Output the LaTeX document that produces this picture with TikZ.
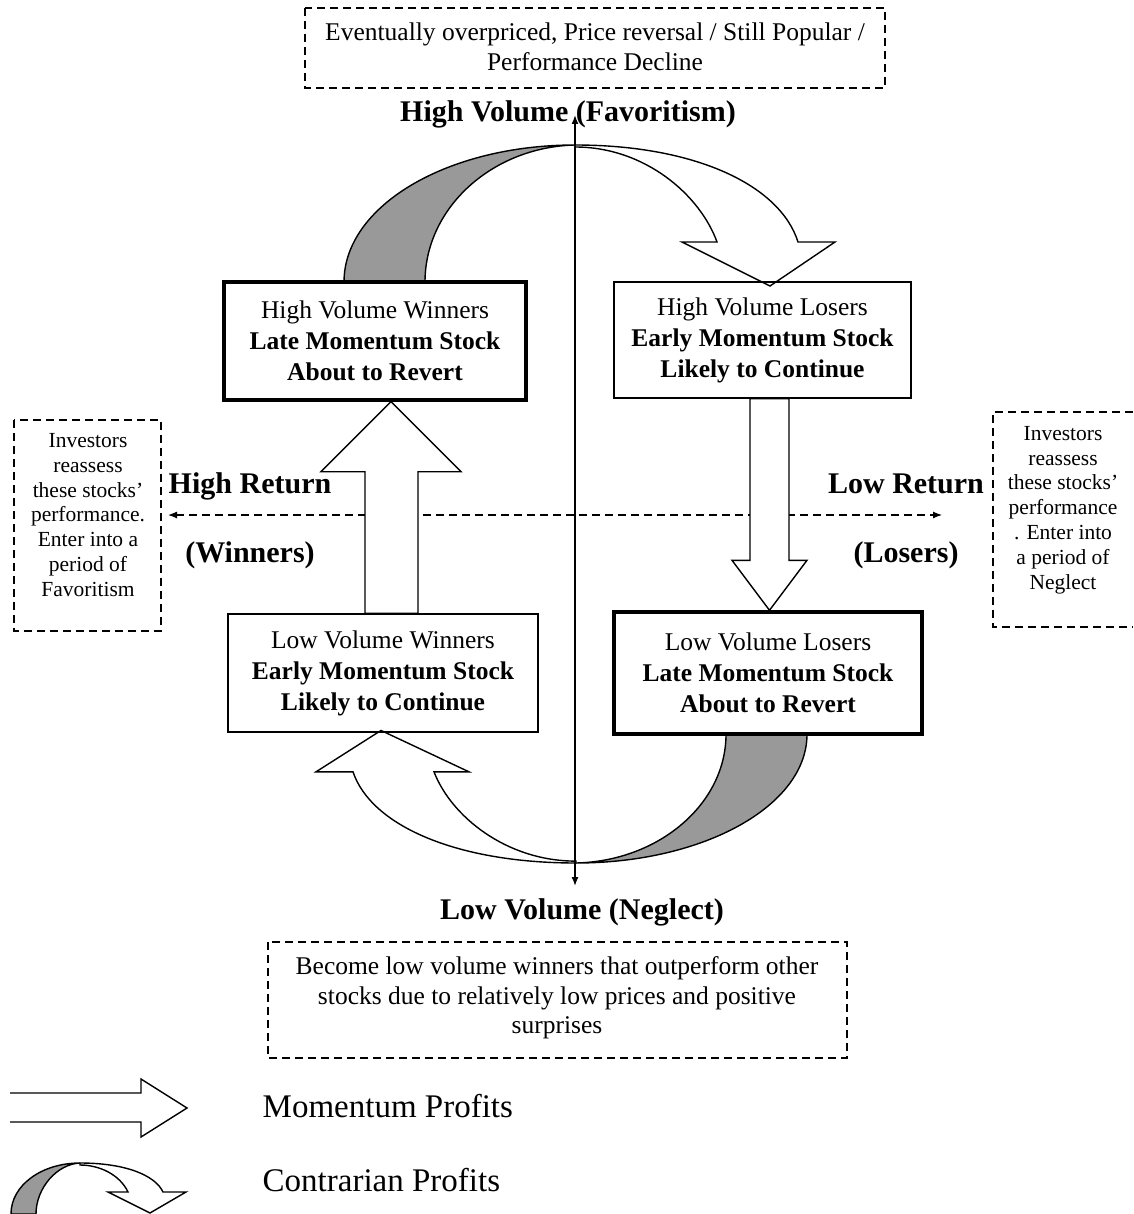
\documentclass[tikz,border=0pt]{standalone}
\usepackage{fontspec}
\setmainfont{Liberation Serif}
\usetikzlibrary{arrows.meta}

\tikzset{
  stockbox/.style={draw, line width=1.4pt, align=center, inner sep=0pt, font=\fontsize{25.5}{31}\selectfont},
  latebox/.style={stockbox, line width=3.4pt},
  notebox/.style={line width=1.3pt, dash pattern=on 8pt off 5pt},
  notetext/.style={align=center, inner sep=0pt, font=\fontsize{25.5}{29.5}\selectfont},
  sidetext/.style={align=center, inner sep=0pt, font=\fontsize{21.5}{24.8}\selectfont},
  axislabel/.style={anchor=base, inner sep=0pt, font=\fontsize{30}{36}\selectfont\bfseries},
  legendtext/.style={anchor=base west, inner sep=0pt, font=\fontsize{33}{40}\selectfont},
  momarrow/.style={draw, fill=white, line width=1.4pt},
  backband/.style={draw, fill=black!40, line width=1.4pt},
  volaxis/.style={line width=1.4pt, {Latex[length=9pt,width=7pt]}-{Latex[length=9pt,width=7pt]}},
  retaxis/.style={line width=1.2pt, dash pattern=on 8pt off 5pt, {Latex[length=9pt,width=7pt]}-{Latex[length=9pt,width=7pt]}},
  % shaded back band + white curved arrow, origin = point on the volume axis
  contra/.pic={
    \path[backband] (-231,137) .. controls (-231,61) and (-128,0) .. (0,0)
      .. controls (-83,2) and (-150,63) .. (-150,137) -- cycle;
    \path[momarrow] (0,0) .. controls (120,0) and (205,40) .. (223,97) -- (260,97)
      -- (195,141) -- (107,97) -- (142,97) .. controls (125,50) and (70,2) .. (0,2) -- cycle;
  }
}

\begin{document}
\begin{tikzpicture}[x=1pt, y=-1pt, line width=1.4pt]

  %% ════ dashed notes ════
  \draw[notebox] (305,8) rectangle (885,88);
  \draw[notebox] (268,942) rectangle (847,1058);
  \draw[notebox] (14,420) rectangle (161,631);
  \draw[notebox] (1133,412) -- (993,412) -- (993,627) -- (1133,627);   % right side runs off the page

  \node[notetext] (topnote) at (595,47) {Eventually overpriced, Price reversal / Still Popular /\\Performance Decline};
  \node[notetext] (botnote) at (557,998) {Become low volume winners that outperform other\\stocks due to relatively low prices and positive\\surprises};
  \node[sidetext] (leftnote) at (88,515) {Investors\\reassess\\these stocks’\\performance.\\Enter into a\\period of\\Favoritism};
  \node[sidetext] (rightnote) at (1063,510) {Investors\\reassess\\these stocks’\\performance\\. Enter into\\a period of\\Neglect};

  %% ════ return axis (under the arrows) ════
  \coordinate (retL) at (168,515);
  \coordinate (retR) at (942,515);
  \draw[retaxis] (retL) -- (retR);

  %% ════ contrarian arcs ════
  \pic (ctop) at (575,145) {contra};
  \pic (cbot) at (576,863) [xscale=-1, yscale=-0.94] {contra};

  %% ════ the four stocks ════
  \node[latebox, minimum width=302, minimum height=118] (hvw) at (375,341) {High Volume Winners\\\textbf{Late Momentum Stock}\\\textbf{About to Revert}};
  \node[stockbox, minimum width=297, minimum height=116] (hvl) at (762.5,340) {High Volume Losers\\\textbf{Early Momentum Stock}\\\textbf{Likely to Continue}};
  \node[stockbox, minimum width=310, minimum height=118] (lvw) at (383,673) {Low Volume Winners\\\textbf{Early Momentum Stock}\\\textbf{Likely to Continue}};
  \node[latebox, minimum width=308, minimum height=122] (lvl) at (768,673) {Low Volume Losers\\\textbf{Late Momentum Stock}\\\textbf{About to Revert}};

  %% ════ momentum arrows ════
  \coordinate (upTail) at ([xshift=8.5pt]lvw.north);
  \coordinate (upTip) at ([xshift=16pt]hvw.south);
  \draw[momarrow] ([xshift=-26.5pt]upTail) |- ([xshift=-70pt,yshift=-70pt]upTip) -- (upTip)
    -- ([xshift=70pt,yshift=-70pt]upTip) -| ([xshift=26.5pt]upTail) -- cycle;

  \coordinate (downTail) at ([xshift=7pt]hvl.south);
  \coordinate (downTip) at ([xshift=1.5pt]lvl.north);
  \draw[momarrow] ([xshift=-19.5pt]downTail) |- ([xshift=-37.5pt,yshift=50pt]downTip) -- (downTip)
    -- ([xshift=37.5pt,yshift=50pt]downTip) -| ([xshift=19.5pt]downTail) -- cycle;

  %% ════ volume axis ════
  \coordinate (volT) at (575,115);
  \coordinate (volB) at (575,886);
  \draw[volaxis] (volT) -- (volB);

  %% ════ axis labels ════
  \node[axislabel] (hivol) at (568,122) {High Volume (Favoritism)};
  \node[axislabel] (lovol) at (582,919) {Low Volume (Neglect)};
  \node[axislabel] (hiret) at (250,493) {High Return};
  \node[axislabel] (winners) at (250,562) {(Winners)};
  \node[axislabel] (loret) at (906,493) {Low Return};
  \node[axislabel] (losers) at (906,562) {(Losers)};

  %% ════ legend ════
  \draw[line width=1.4pt] (10,1093) -- (141,1093) -- (141,1079) -- (187,1108) -- (141,1137) -- (141,1122) -- (10,1122);
  \path[backband] (11,1214) .. controls (11,1185) and (42,1163) .. (80,1163)
    .. controls (57,1164) and (36,1188) .. (36,1214) -- cycle;
  \path[momarrow] (80,1163) .. controls (125,1163) and (155,1175) .. (163,1192) -- (186,1192)
    -- (150,1213) -- (108,1192) -- (128,1192) .. controls (120,1175) and (100,1165) .. (80,1165) -- cycle;
  \node[legendtext] (legmom) at (262,1117) {Momentum Profits};
  \node[legendtext] (legcon) at (262,1191) {Contrarian Profits};

  % fix the canvas to the reference size
  \pgfresetboundingbox
  \path[use as bounding box] (0,0) rectangle (1133,1214);
\end{tikzpicture}
\end{document}
